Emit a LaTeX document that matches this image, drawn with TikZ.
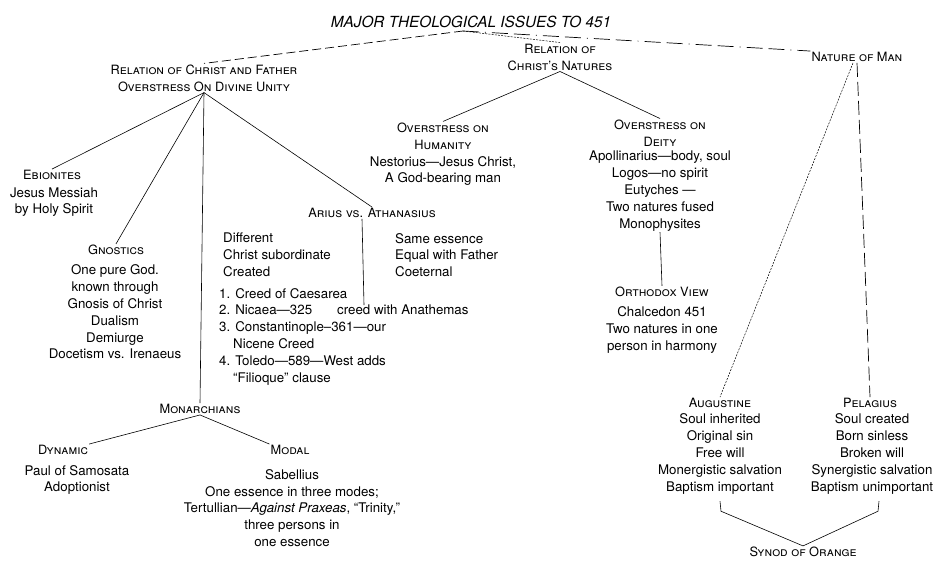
\documentclass[tikz,border=0pt]{standalone}
\usepackage{fontspec}
\setmainfont{TeX Gyre Heros}
\begin{document}
\begin{tikzpicture}[x=1pt,y=-1pt,
  txt/.style={font=\fontsize{13.3}{16.8}\selectfont, align=center, inner sep=1pt},
  hd/.style={font=\fontsize{12.8}{17}\selectfont\scshape, align=center, inner sep=1pt},
  lft/.style={font=\fontsize{13.3}{16.8}\selectfont, align=left, inner sep=0pt, anchor=north west},
  ln/.style={line width=0.6pt},
  fine/.style={line width=0.5pt, dash pattern=on 2pt off 1.2pt},
  dsh/.style={line width=0.7pt, dash pattern=on 9pt off 4pt},
  ldsh/.style={line width=0.7pt, dash pattern=on 16pt off 6pt on 1pt off 6pt on 16pt off 6pt},
  vdsh/.style={line width=0.7pt, dash pattern=on 14pt off 5pt}]
\path[use as bounding box, fill=white] (0,0) rectangle (936,566);

% title and top level
\node[txt, font=\fontsize{15.3}{17}\selectfont\itshape] (title) at (471,22) {MAJOR THEOLOGICAL ISSUES TO 451};
\coordinate (tA) at (463,31);
\node[hd] (rcf) at (204,78) {Relation of Christ and Father\\Overstress On Divine Unity};
\node[hd] (rcn) at (560,57) {Relation of\\Christ's Natures};
\node[hd] (nom) at (857,57) {Nature of Man};
\draw[dsh] (tA) -- (rcf.north);
\draw[fine] (tA) -- (rcn.north);
\draw[ldsh] (tA) -- (nom.north west);

% left branch
\node[hd] (ebi) at (52,175) {Ebionites};
\node[txt] (ebib) at (54,202) {Jesus Messiah\\by Holy Spirit};
\node[hd] (gno) at (116,250) {Gnostics};
\node[txt] (gnob) at (115,312) {One pure God.\\known through\\Gnosis of Christ\\Dualism\\Demiurge\\Docetism vs. Irenaeus};
\node[hd] (ari) at (372,213) {Arius vs. Athanasius};
\node[lft] (arl) at (223,233) {Different\\Christ subordinate\\Created};
\node[lft] (arlist) at (219,288) {1.\hspace{5pt}Creed of Caesarea\\2.\hspace{5pt}Nicaea---325\\3.\hspace{5pt}Constantinople--361---our\\\hspace{14pt}Nicene Creed\\4.\hspace{5pt}Toledo---589---West adds\\\hspace{14pt}``Filioque'' clause};
\node[lft] (anath) at (337,305) {creed with Anathemas};
\node[lft] (arr) at (395,233) {Same essence\\Equal with Father\\Coeternal};
\coordinate (arend) at (364,305);
\node[hd] (mon) at (200,409) {Monarchians};
\node[hd] (dyn) at (63,450) {Dynamic};
\node[txt] (dynb) at (77,480) {Paul of Samosata\\Adoptionist};
\node[hd] (mod) at (290,450) {Modal};
\node[txt] (modb) at (292,508) {Sabellius\\One essence in three modes;\\Tertullian---\textit{Against Praxeas}, ``Trinity,''\\three persons in\\one essence};

\draw[ln] (rcf.south) -- (ebi.north);
\draw[ln] (rcf.south) -- (gno.north);
\draw[ln] (rcf.south) -- (mon.north);
\draw[ln] (rcf.south) -- (ari.north);
\draw[ln] ([xshift=-10pt]ari.south) -- (arend);
\draw[ln] (mon.south) -- (dyn.north east);
\draw[ln] (mon.south) -- (mod.north west);

% middle branch
\node[hd] (hum) at (443,136) {Overstress on\\Humanity};
\node[txt] (humb) at (443,171) {Nestorius---Jesus Christ,\\A God-bearing man};
\node[hd] (dei) at (660,133) {Overstress on\\Deity};
\node[txt] (deib) at (660,191) {Apollinarius---body, soul\\Logos---no spirit\\Eutyches ---\\Two natures fused\\Monophysites};
\node[hd] (orth) at (662,292) {Orthodox View};
\node[txt] (orthb) at (662,330) {Chalcedon 451\\Two natures in one\\person in harmony};
\draw[ln] (rcn.south) -- (hum.north);
\draw[ln] (rcn.south) -- (dei.north);
\draw[ln] (deib.south) -- (orth.north);

% right branch
\node[hd] (aug) at (720,403) {Augustine};
\node[txt] (augb) at (720,454) {Soul inherited\\Original sin\\Free will\\Monergistic salvation\\Baptism important};
\node[hd] (pel) at (870,403) {Pelagius};
\node[txt] (pelb) at (872,454) {Soul created\\Born sinless\\Broken will\\Synergistic salvation\\Baptism unimportant};
\node[hd] (syn) at (803,552) {Synod of Orange};
\draw[fine] ([xshift=-4pt]nom.south) -- (aug.north);
\draw[vdsh] (nom.south) -- (pel.north);
\draw[ln] ([yshift=-6pt]augb.south) -- ([xshift=1pt,yshift=-16pt]augb.south) -- (syn.north);
\draw[ln] ([xshift=7pt,yshift=-6pt]pelb.south) -- ([xshift=6pt,yshift=-16pt]pelb.south) -- (syn.north);
\end{tikzpicture}
\end{document}
